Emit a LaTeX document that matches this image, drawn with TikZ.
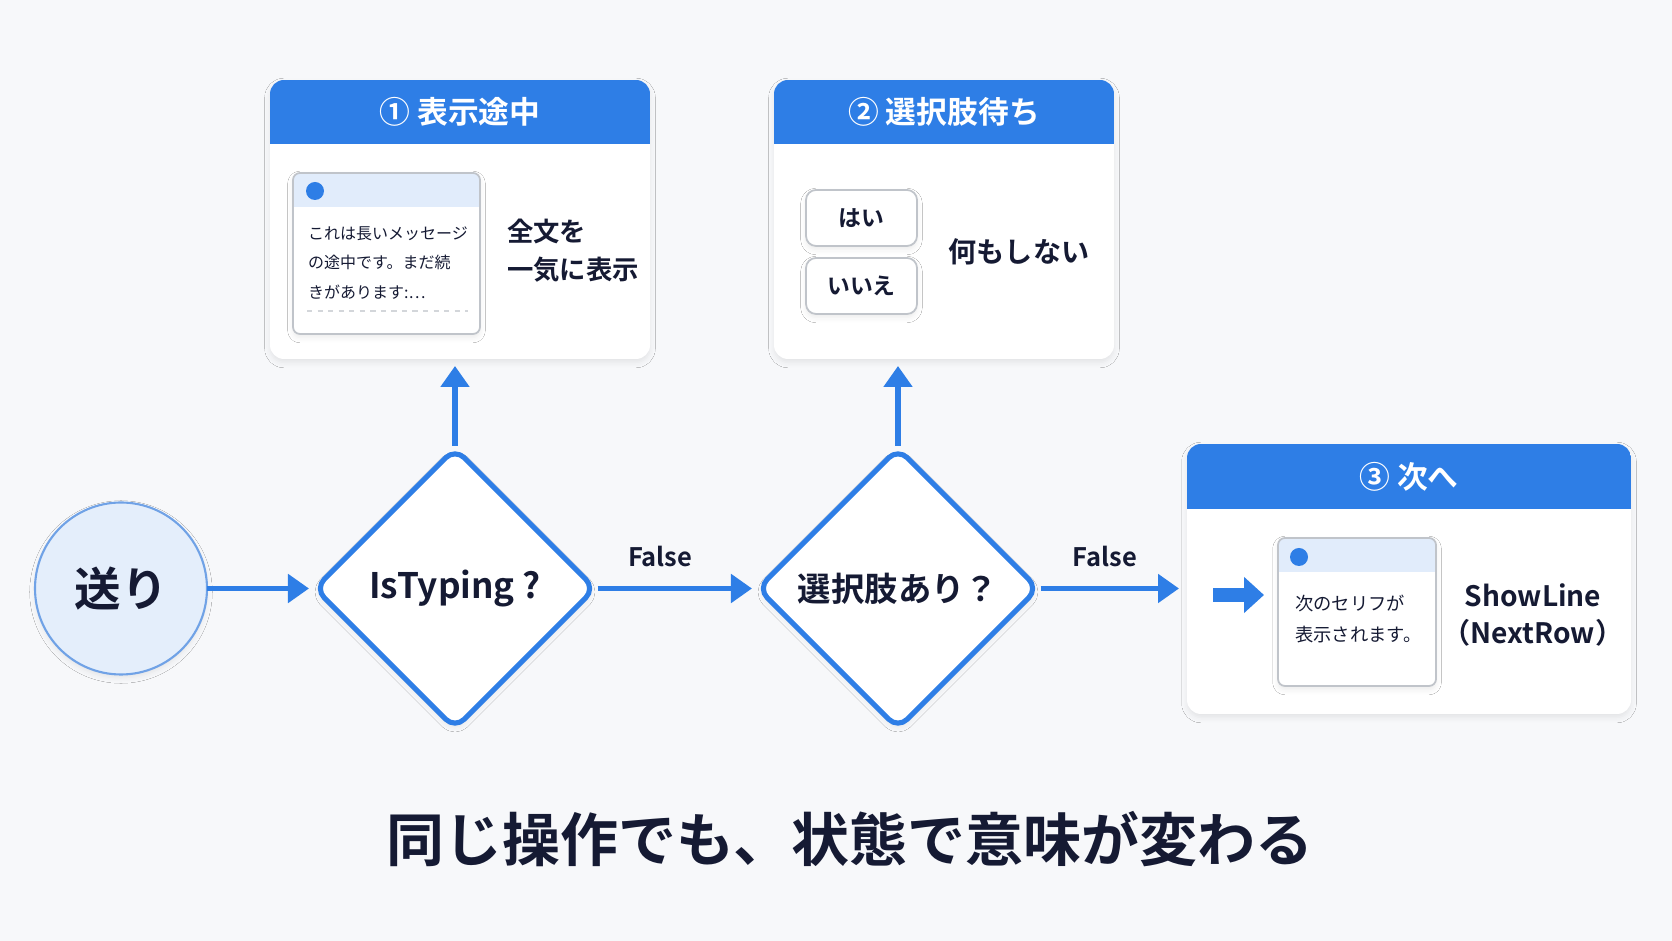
\documentclass[tikz,border=0pt]{standalone}
\usepackage{fontspec}
\setmainfont{Noto Sans CJK JP}[BoldFont={Noto Sans CJK JP Bold}]
\usepackage{tikz}
\usetikzlibrary{calc, positioning, arrows.meta, shapes.geometric, shadows.blur}

\definecolor{mainblue}{RGB}{46,126,230}
\definecolor{paleblue}{RGB}{228,238,251}
\definecolor{stripblue}{RGB}{225,236,251}
\definecolor{ringblue}{RGB}{112,162,230}
\definecolor{inkdark}{RGB}{21,26,51}
\definecolor{pagebg}{RGB}{247,248,250}
\definecolor{framegray}{RGB}{192,196,202}

\tikzset{
	softshadow/.style={blur shadow={shadow xshift=0pt, shadow yshift=-2pt, shadow blur radius=3pt, shadow opacity=8}},
	flow/.style={draw=mainblue, line width=2.9pt, -{Triangle[length=0.42cm,width=0.56cm]}, shorten <=0.05cm, shorten >=0.12cm},
	flowlabel/.style={text=inkdark, font=\fontsize{14.5}{17}\selectfont\bfseries},
	startnode/.style={circle, fill=paleblue, draw=ringblue, line width=1.2pt, minimum size=3.44cm, inner sep=0pt, outer sep=0pt, text=inkdark, font=\fontsize{26.5}{30}\selectfont\bfseries, softshadow},
	decision/.style={diamond, draw=mainblue, line width=2.9pt, fill=white, rounded corners=0.26cm, minimum width=5.6cm, minimum height=5.6cm, inner sep=0pt, outer sep=0pt, text=inkdark, softshadow},
	panel/.style={fill=white, rounded corners=0.28cm, inner sep=0pt, outer sep=0pt, softshadow},
	headtext/.style={text=white, font=\fontsize{17.5}{20}\selectfont\bfseries},
	msgbox/.style={fill=white, rounded corners=0.14cm, inner sep=0pt, outer sep=0pt, softshadow},
	choice/.style={draw=framegray, line width=1pt, fill=white, rounded corners=0.2cm, minimum width=2.22cm, minimum height=1.12cm, inner sep=0pt, text=inkdark, font=\fontsize{13}{15}\selectfont\bfseries, softshadow},
	bigtext/.style={text=inkdark, align=left, font=\fontsize{15}{21.6}\selectfont\bfseries},
}

\begin{document}
\begin{tikzpicture}
	% Page
	\fill[pagebg] (0,0) rectangle (33.44,18.82);
	\useasboundingbox (0,0) rectangle (33.44,18.82);

	% Start and the two decisions
	\node[startnode] (send) at (2.42,7.05) {送り};
	\node[decision, font=\fontsize{20}{24}\selectfont\bfseries] (istyping) at (9.10,7.05) {IsTyping ?};
	\node[decision, font=\fontsize{19}{23}\selectfont\bfseries] (haschoice) at (17.96,7.05) {選択肢あり？};

	% Panel 1: typing
	\node[panel, minimum width=7.60cm, minimum height=5.58cm] (typing) at (9.20,14.43) {};
	\begin{scope}
		\clip[rounded corners=0.28cm] (typing.south west) rectangle (typing.north east);
		\fill[mainblue] (typing.north west) rectangle ([yshift=-1.28cm]typing.north east);
	\end{scope}
	\node[headtext] at ([yshift=-0.64cm]typing.north) {① 表示途中};
	\node[msgbox, minimum width=3.74cm, minimum height=3.22cm] (typingmsg) at (7.73,13.75) {};
	\begin{scope}
		\clip[rounded corners=0.14cm] (typingmsg.south west) rectangle (typingmsg.north east);
		\fill[stripblue] (typingmsg.north west) rectangle ([yshift=-0.68cm]typingmsg.north east);
	\end{scope}
	\draw[framegray, line width=1pt, rounded corners=0.14cm] (typingmsg.south west) rectangle (typingmsg.north east);
	\fill[mainblue] (6.30,15.00) circle (0.18);
	\node[anchor=west, align=left, text=inkdark, font=\fontsize{9.1}{17}\selectfont] (typingtxt) at (6.04,13.56) {これは長いメッセージ\\の途中です。まだ続\\きがあります:…};
	\draw[framegray!70, line width=1pt, dashed] (6.14,12.60) -- (9.36,12.60);
	\node[bigtext, anchor=west] (typingact) at (10.02,13.80) {全文を\\一気に表示};

	% Panel 2: waiting for a choice
	\node[panel, minimum width=6.80cm, minimum height=5.58cm] (choicewait) at (18.88,14.43) {};
	\begin{scope}
		\clip[rounded corners=0.28cm] (choicewait.south west) rectangle (choicewait.north east);
		\fill[mainblue] (choicewait.north west) rectangle ([yshift=-1.28cm]choicewait.north east);
	\end{scope}
	\node[headtext] at ([yshift=-0.64cm]choicewait.north) {② 選択肢待ち};
	\node[choice] (yes) at (17.23,14.46) {はい};
	\node[choice] (no) at (17.23,13.10) {いいえ};
	\node[bigtext, anchor=west, font=\fontsize{16}{20}\selectfont\bfseries] (choiceact) at (18.85,13.78) {何もしない};

	% Panel 3: next line
	\node[panel, minimum width=8.88cm, minimum height=5.40cm] (nextstep) at (28.18,7.24) {};
	\begin{scope}
		\clip[rounded corners=0.28cm] (nextstep.south west) rectangle (nextstep.north east);
		\fill[mainblue] (nextstep.north west) rectangle ([yshift=-1.30cm]nextstep.north east);
	\end{scope}
	\node[headtext] at ([yshift=-0.65cm]nextstep.north) {③ 次へ};
	\node[msgbox, minimum width=3.16cm, minimum height=2.96cm] (nextmsg) at (27.14,6.58) {};
	\begin{scope}
		\clip[rounded corners=0.14cm] (nextmsg.south west) rectangle (nextmsg.north east);
		\fill[stripblue] (nextmsg.north west) rectangle ([yshift=-0.68cm]nextmsg.north east);
	\end{scope}
	\draw[framegray, line width=1pt, rounded corners=0.14cm] (nextmsg.south west) rectangle (nextmsg.north east);
	\fill[mainblue] (25.98,7.68) circle (0.18);
	\node[anchor=west, align=left, text=inkdark, font=\fontsize{10.4}{18}\selectfont] (nexttxt) at (25.78,6.44) {次のセリフが\\表示されます。};
	\coordinate (nextin) at (24.26,6.92);
	\draw[mainblue, line width=0.28cm, -{Triangle[length=0.4cm,width=0.7cm]}, shorten >=0.28cm] (nextin) -- (nextin -| nextmsg.west);
	\node[bigtext, align=center, font=\fontsize{16}{21.6}\selectfont\bfseries] (nextact) at (30.66,6.52) {ShowLine\\（NextRow）};

	% Connectors
	\draw[flow, shorten <=0pt] (send) -- (istyping);
	\draw[flow] (istyping) -- node[flowlabel, pos=0.4, yshift=0.64cm] {False} (haschoice);
	\draw[flow, shorten >=0.16cm] (haschoice.east) -- node[flowlabel, pos=0.45, yshift=0.64cm] {False} (haschoice.east -| nextstep.west);
	\draw[flow, shorten >=0.14cm] (istyping.north) -- (istyping.north |- typing.south);
	\draw[flow, shorten >=0.14cm] (haschoice.north) -- (haschoice.north |- choicewait.south);

	% Caption
	\node[text=inkdark, font=\fontsize{33}{38}\selectfont\bfseries] (caption) at (17.00,2.04) {同じ操作でも、状態で意味が変わる};
\end{tikzpicture}
\end{document}
